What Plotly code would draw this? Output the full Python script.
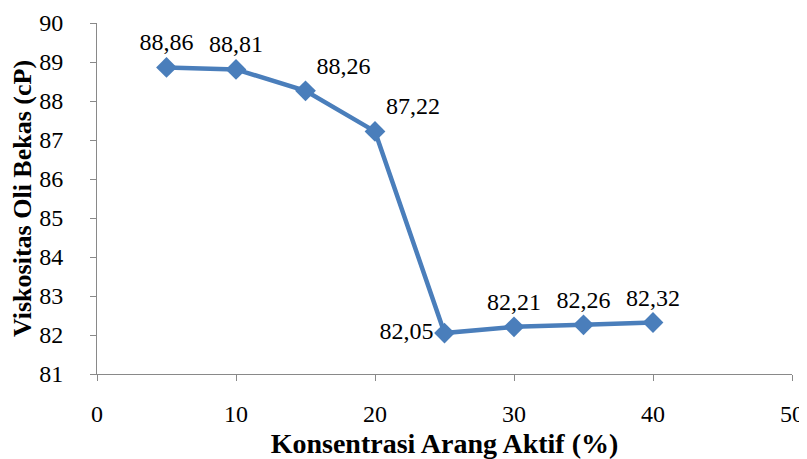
import plotly.graph_objects as go

konsentrasi = [5, 10, 15, 20, 25, 30, 35, 40]
viskositas = [88.86, 88.81, 88.26, 87.22, 82.05, 82.21, 82.26, 82.32]
label_pos = ["top center", "top center", "top right", "top right", "middle left", "top center", "top center", "top center"]
labels = [f"{v:.2f}".replace(".", ",") for v in viskositas]

SERIF = "'Liberation Serif', 'DejaVu Serif', serif"

fig = go.Figure(go.Scatter(
    x=konsentrasi, y=viskositas, mode="lines+markers+text",
    line=dict(color="#4a7ebb", width=4.5),
    marker=dict(symbol="diamond", size=16, color="#4a7ebb"),
    text=labels, textposition=label_pos,
    textfont=dict(family=SERIF, size=24, color="black"),
    cliponaxis=False,
))

axis_common = dict(showgrid=False, zeroline=False, showline=True, linecolor="#898989", linewidth=1,
                   ticks="outside", ticklen=6, tickcolor="#898989", automargin=False,
                   tickfont=dict(family=SERIF, size=24, color="black"))
fig.update_xaxes(range=[0, 50], dtick=10, ticklabelstandoff=12, **axis_common,
                 title=dict(text="<b>Konsentrasi Arang Aktif (%)</b>",
                            font=dict(family=SERIF, size=28, color="black"), standoff=12))
fig.update_yaxes(range=[81, 90], dtick=1, ticklabelstandoff=22, **axis_common,
                 title=dict(text="<b>Viskositas Oli Bekas (cP)</b>",
                            font=dict(family=SERIF, size=26, color="black"), standoff=0))
fig.update_layout(width=799, height=451, margin=dict(l=89, r=15, t=15, b=85),
                  font=dict(family=SERIF, color="black"),
                  plot_bgcolor="white", paper_bgcolor="white", showlegend=False)
fig.write_html("out.html")
